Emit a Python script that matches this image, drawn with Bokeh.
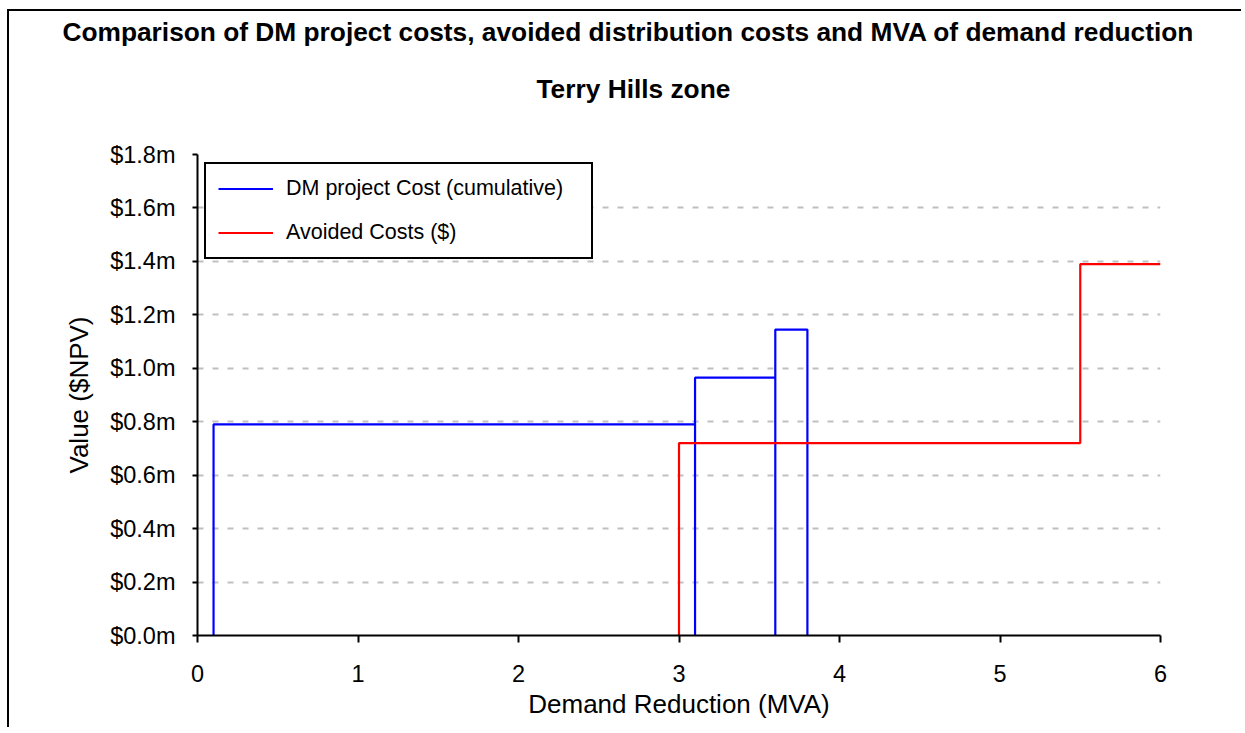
from bokeh.plotting import figure
from bokeh.models import (FixedTicker, PrintfTickFormatter, Title, Legend, LegendItem,
                          Range1d)
from bokeh.embed import file_html
from bokeh.resources import INLINE

# ---- data ----
title_line1 = "Comparison of DM project costs, avoided distribution costs and MVA of demand reduction"
title_line2 = "Terry Hills zone"
x_label = "Demand Reduction (MVA)"
y_label = "Value ($NPV)"

dm_name = "DM project Cost (cumulative)"
dm_mva = [0.1, 0.1, 3.1, 3.1, 3.1, 3.6, 3.6, 3.6, 3.8, 3.8]
dm_cost = [0.0, 0.79, 0.79, 0.0, 0.965, 0.965, 0.0, 1.145, 1.145, 0.0]

av_name = "Avoided Costs ($)"
av_mva = [3.0, 3.0, 5.5, 5.5, 6.0]
av_cost = [0.0, 0.72, 0.72, 1.39, 1.39]

x_ticks = [0, 1, 2, 3, 4, 5, 6]
y_ticks = [0.0, 0.2, 0.4, 0.6, 0.8, 1.0, 1.2, 1.4, 1.6, 1.8]

FONT = "'Liberation Sans', Arial, sans-serif"

p = figure(width=1234, height=718, output_backend="svg", toolbar_location=None,
           title=None,
           x_range=Range1d(0, 6), y_range=Range1d(0, 1.8),
           min_border_left=188, min_border_right=83, min_border_top=0,
           min_border_bottom=94)
p.styles = {"border-left": "2px solid black", "border-top": "2px solid black",
            "margin-left": "7px", "margin-top": "9px"}
p.outline_line_color = None
p.background_fill_color = "white"
p.border_fill_color = "white"

r_dm = p.line(dm_mva, dm_cost, line_color="#0000ff", line_width=2.2)
r_av = p.line(av_mva, av_cost, line_color="#ff0000", line_width=2.2)

# axes
p.xaxis.ticker = FixedTicker(ticks=x_ticks)
p.yaxis.ticker = FixedTicker(ticks=y_ticks)
p.yaxis.formatter = PrintfTickFormatter(format="$%.1fm")
for ax in (p.xaxis[0], p.yaxis[0]):
    ax.axis_line_color = "black"
    ax.axis_line_width = 2
    ax.major_tick_line_color = "black"
    ax.major_tick_line_width = 2
    ax.major_tick_in = 0
    ax.minor_tick_line_color = None
    ax.major_label_text_font = FONT
    ax.major_label_text_font_size = "23.5px"
    ax.major_label_text_color = "black"
    ax.axis_label_text_font = FONT
    ax.axis_label_text_font_size = "26px"
    ax.axis_label_text_font_style = "normal"
    ax.axis_label_text_color = "black"
p.xaxis.major_tick_out = 7
p.yaxis.major_tick_out = 5
p.xaxis.major_label_standoff = 22
p.yaxis.major_label_standoff = 17
p.xaxis.axis_label = x_label
p.yaxis.axis_label = y_label
p.xaxis.axis_label_standoff = 4
p.yaxis.axis_label_standoff = 13

p.xgrid.grid_line_color = None
p.ygrid.grid_line_color = "#c0c0c0"
p.ygrid.grid_line_width = 2
p.ygrid.grid_line_dash = "6 9"

# titles: first added sits closest to the plot; a blank one spaces them off the plot
p.add_layout(Title(text=" ", standoff=0, text_font=FONT,
                   text_font_size="24px"), "above")
p.add_layout(Title(text=title_line2, align="left", offset=339, standoff=44,
                   text_font=FONT, text_font_style="bold",
                   text_font_size="26.3px", text_color="black"), "above")
p.add_layout(Title(text=title_line1, align="left", offset=-135, standoff=6,
                   text_font=FONT, text_font_style="bold",
                   text_font_size="26.3px", text_color="black"), "above")

legend = Legend(items=[LegendItem(label=dm_name, renderers=[r_dm]),
                       LegendItem(label=av_name, renderers=[r_av])],
                location=(7, 376), margin=0, padding=12, spacing=19,
                glyph_width=55, glyph_height=25, label_height=25,
                label_width=293, label_standoff=13,
                label_text_font=FONT, label_text_font_size="21.5px",
                label_text_color="black",
                border_line_color="black", border_line_width=2,
                border_line_alpha=1.0,
                background_fill_color="white", background_fill_alpha=1.0)
p.add_layout(legend)

open("out.html", "w").write(file_html(p, INLINE))
